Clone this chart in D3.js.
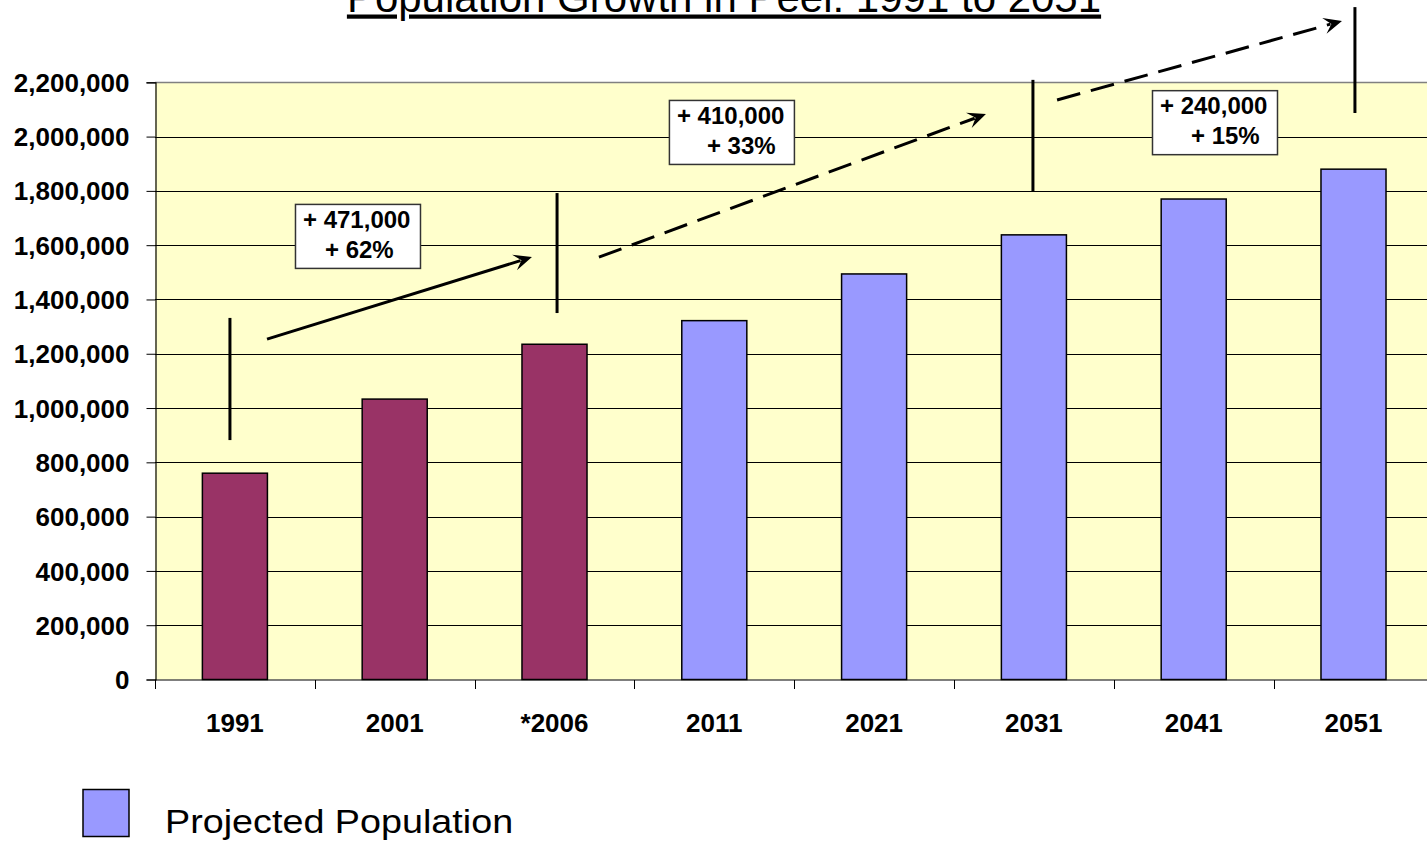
<!DOCTYPE html>
<html>
<head>
<meta charset="utf-8">
<script src="https://cdn.jsdelivr.net/npm/d3@7/dist/d3.min.js"></script>
<style>
  html, body { margin: 0; padding: 0; background: #ffffff; }
  svg { display: block; }
  text { font-family: "Liberation Sans", Arial, Helvetica, sans-serif; }
</style>
</head>
<body>
<svg id="chart" width="1427" height="845"></svg>
<script>
// ---- data ----
const categories = ["1991", "2001", "*2006", "2011", "2021", "2031", "2041", "2051"];
const population = [760000, 1033000, 1235000, 1322000, 1494000, 1638000, 1770000, 1880000];
const projected  = [false, false, false, true, true, true, true, true];
const yTicks = [0, 200000, 400000, 600000, 800000, 1000000, 1200000, 1400000, 1600000, 1800000, 2000000, 2200000];

// annotation markers (category position index, value range)
const markerPos = [0.469, 2.516, 5.494, 7.509];
const markerLow = [882000, 1350000, 1796000, 2087000];
const markerHigh = [1332000, 1792000, 2209000, 2477000];

// growth arrows (category index / value of start and end)
const arrowX0 = [0.701, 2.778, 5.645];
const arrowV0 = [1254000, 1556000, 2135000];
const arrowX1 = [2.359, 5.200, 7.428];
const arrowV1 = [1556000, 2083000, 2426000];
const arrowDashed = [false, true, true];

// growth boxes
const boxLine1 = ["+ 471,000", "+ 410,000", "+ 240,000"];
const boxLine2 = ["+ 62%", "+ 33%", "+ 15%"];
const boxX = [0.876, 3.216, 6.239];
const boxV = [1752000, 2135000, 2171000];

const titleText = "Population Growth in Peel: 1991 to 2051";
const legendText = "Projected Population";

// ---- layout ----
const svg = d3.select("#chart");
const plotLeft = 155, step = 159.8;
const plotRight = plotLeft + step * categories.length;
const plotTop = 82.3, plotBottom = 679.5;

const x = d3.scaleBand()
  .domain(categories)
  .range([plotLeft, plotRight])
  .paddingInner(0.593)
  .paddingOuter(0.593 / 2);
const xi = d3.scaleLinear().domain([0, categories.length]).range([plotLeft, plotRight]);
const y = d3.scaleLinear().domain([0, 2200000]).range([plotBottom, plotTop]);

// plot background
svg.append("rect")
  .attr("x", plotLeft).attr("y", plotTop)
  .attr("width", plotRight - plotLeft).attr("height", plotBottom - plotTop)
  .attr("fill", "#FFFFCC");

// gridlines
svg.append("g")
  .selectAll("line")
  .data(yTicks.filter(d => d > 0 && d < 2200000))
  .join("line")
  .attr("x1", plotLeft).attr("x2", plotRight)
  .attr("y1", d => Math.round(y(d)) + 0.5).attr("y2", d => Math.round(y(d)) + 0.5)
  .attr("stroke", "#000").attr("stroke-width", 1);

// top border
svg.append("line")
  .attr("x1", plotLeft).attr("x2", plotRight)
  .attr("y1", Math.round(plotTop) + 0.5).attr("y2", Math.round(plotTop) + 0.5)
  .attr("stroke", "#808080").attr("stroke-width", 1.5);

// bars
svg.append("g")
  .selectAll("rect")
  .data(categories)
  .join("rect")
  .attr("x", d => x(d))
  .attr("y", (d, i) => y(population[i]))
  .attr("width", x.bandwidth())
  .attr("height", (d, i) => y(0) - y(population[i]))
  .attr("fill", (d, i) => projected[i] ? "#9999FF" : "#993366")
  .attr("stroke", "#000")
  .attr("stroke-width", 1.5);

// y axis
const yAxis = d3.axisLeft(y)
  .tickValues(yTicks)
  .tickSize(9)
  .tickPadding(17)
  .tickFormat(d3.format(","));
const gy = svg.append("g")
  .attr("transform", `translate(${plotLeft + 0.5},0)`)
  .call(yAxis);
gy.select(".domain").attr("stroke", "#000").attr("stroke-width", 1.2);
gy.selectAll(".tick line").attr("stroke", "#000");
gy.selectAll(".tick text")
  .attr("fill", "#000")
  .style("font-size", "26px")
  .style("font-weight", "bold")
  .attr("dy", "0.35em");

// x axis (ticks at category boundaries)
const gx = svg.append("g")
  .attr("transform", `translate(0,${plotBottom + 0.5})`);
gx.append("line")
  .attr("x1", plotLeft).attr("x2", plotRight)
  .attr("stroke", "#000").attr("stroke-width", 1.2);
gx.selectAll("line.tk")
  .data(d3.range(categories.length + 1))
  .join("line")
  .attr("class", "tk")
  .attr("x1", d => Math.round(xi(d)) + 0.5).attr("x2", d => Math.round(xi(d)) + 0.5)
  .attr("y1", 0).attr("y2", 9)
  .attr("stroke", "#000");
gx.selectAll("text")
  .data(categories)
  .join("text")
  .attr("x", d => x(d) + x.bandwidth() / 2)
  .attr("y", 51.5)
  .attr("text-anchor", "middle")
  .style("font-size", "26px")
  .style("font-weight", "bold")
  .text(d => d);

// title
svg.append("text")
  .attr("x", 724).attr("y", 11.5)
  .attr("text-anchor", "middle")
  .style("font-size", "42px")
  .style("text-decoration", "underline")
  .text(titleText);

// markers
svg.append("g")
  .selectAll("line")
  .data(markerPos)
  .join("line")
  .attr("x1", d => xi(d)).attr("x2", d => xi(d))
  .attr("y1", (d, i) => y(markerHigh[i])).attr("y2", (d, i) => y(markerLow[i]))
  .attr("stroke", "#000").attr("stroke-width", 3);

// arrows
const arrows = svg.append("g");
arrowX0.forEach((ax, i) => {
  const x0 = xi(ax), y0 = y(arrowV0[i]);
  const x1 = xi(arrowX1[i]), y1 = y(arrowV1[i]);
  const ang = Math.atan2(y1 - y0, x1 - x0);
  const headLen = 20;
  const lx = x1 - Math.cos(ang) * headLen * 0.6;
  const ly = y1 - Math.sin(ang) * headLen * 0.6;
  arrows.append("line")
    .attr("x1", x0).attr("y1", y0).attr("x2", lx).attr("y2", ly)
    .attr("stroke", "#000").attr("stroke-width", 3)
    .attr("stroke-dasharray", arrowDashed[i] ? "24,11" : null);
  const hw = 0.42;
  const p = [
    [x1, y1],
    [x1 - Math.cos(ang - hw) * headLen, y1 - Math.sin(ang - hw) * headLen],
    [x1 - Math.cos(ang) * headLen * 0.55, y1 - Math.sin(ang) * headLen * 0.55],
    [x1 - Math.cos(ang + hw) * headLen, y1 - Math.sin(ang + hw) * headLen]
  ];
  arrows.append("path")
    .attr("d", "M" + p.map(q => q.join(",")).join("L") + "Z")
    .attr("fill", "#000");
});

// growth boxes
const line2Offset = [30, 38, 39];
const boxes = svg.append("g");
boxLine1.forEach((t, i) => {
  const bx = xi(boxX[i]), by = y(boxV[i]);
  boxes.append("rect")
    .attr("x", bx + 0.5).attr("y", by + 0.5)
    .attr("width", 125).attr("height", 64)
    .attr("fill", "#fff").attr("stroke", "#333").attr("stroke-width", 1.5);
  boxes.append("text")
    .attr("x", bx + 8).attr("y", by + 24)
    .style("font-size", "24px").style("font-weight", "bold")
    .text(t);
  boxes.append("text")
    .attr("x", bx + line2Offset[i]).attr("y", by + 54)
    .style("font-size", "24px").style("font-weight", "bold")
    .text(boxLine2[i]);
});

// legend
svg.append("rect")
  .attr("x", 83).attr("y", 789.5).attr("width", 46).attr("height", 47)
  .attr("fill", "#9999FF").attr("stroke", "#000").attr("stroke-width", 1.5);
svg.append("text")
  .attr("transform", "translate(165,833) scale(1.11,1)")
  .style("font-size", "34px")
  .text(legendText);
</script>
</body>
</html>
